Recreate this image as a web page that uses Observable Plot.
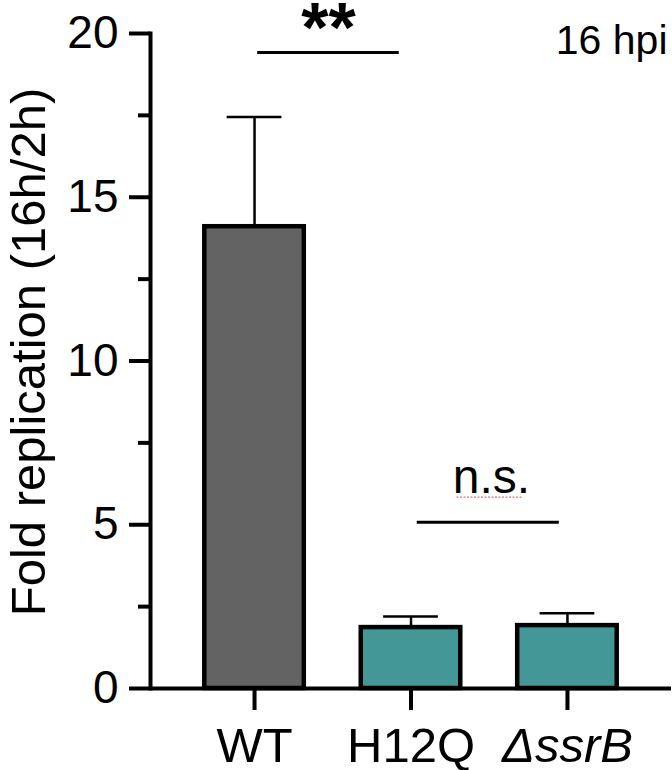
<!DOCTYPE html>
<html>
<head>
<meta charset="utf-8">
<script src="https://cdn.jsdelivr.net/npm/d3@7"></script>
<script src="https://cdn.jsdelivr.net/npm/@observablehq/plot@0.6"></script>
<style>
  html, body { margin: 0; padding: 0; background: #fff; }
  #chart { width: 672px; height: 770px; }
</style>
</head>
<body>
<div id="chart"></div>
<script>
// ---- data ----
const categories = ["WT", "H12Q", "ΔssrB"];
const positions = [1, 2, 3];
const means = [14.1, 1.86, 1.92];
const upper = [17.45, 2.2, 2.3];
const italic = [false, false, true];
const barColors = ["#636363", "#449797", "#449797"];

const yTicks = [0, 5, 10, 15, 20];
const yMinorTicks = [2.5, 7.5, 12.5, 17.5];

const sigLabels = ["**", "n.s."];
const sigX1 = [1.02, 2.04];
const sigX2 = [1.925, 2.948];
const sigY = [19.42, 5.08];

const yLabel = "Fold replication (16h/2h)";
const cornerLabel = "16 hpi";

// ---- build tables ----
const bars = categories.map((c, i) => ({
  cat: c, pos: positions[i], mean: means[i], upper: upper[i],
  italic: italic[i], color: barColors[i]
}));
const sig = sigLabels.map((s, i) => ({label: s, x1: sigX1[i], x2: sigX2[i], y: sigY[i], mid: (sigX1[i] + sigX2[i]) / 2}));
const starSig = sig.filter(d => d.label === "**");
const nsSig = sig.filter(d => d.label !== "**");

const halfBar = 0.318;
const halfCap = 0.175;
const font = "Liberation Sans, Arial, Helvetica, sans-serif";
const blank = () => "";

const chart = Plot.plot({
  width: 672,
  height: 770,
  marginLeft: 150,
  marginRight: 1,
  marginTop: 33,
  marginBottom: 82,
  style: {fontFamily: font, background: "white", color: "black", overflow: "visible"},
  x: {domain: [0.335, 3.665], axis: null},
  y: {domain: [0, 20], axis: null},
  marks: [
    // error bars
    Plot.ruleX(bars, {x: "pos", y1: "mean", y2: "upper", stroke: "black", strokeWidth: 2.5}),
    Plot.ruleY(bars, {y: "upper", x1: d => d.pos - halfCap, x2: d => d.pos + halfCap, stroke: "black", strokeWidth: 2.5}),
    // bars
    Plot.rectY(bars, {
      x1: d => d.pos - halfBar, x2: d => d.pos + halfBar, y1: 0, y2: "mean",
      fill: "color", stroke: "black", strokeWidth: 4.5
    }),
    // axes
    Plot.frame({anchor: "left", stroke: "black", strokeWidth: 4}),
    Plot.ruleY([0], {stroke: "black", strokeWidth: 4}),
    Plot.axisY({ticks: yTicks, tickSize: 21, tickPadding: 11, strokeWidth: 4, fontSize: 46, label: null, fill: "black"}),
    Plot.axisY({ticks: yMinorTicks, tickSize: 12, strokeWidth: 4, tickFormat: blank, label: null}),
    Plot.axisX({ticks: positions, tickSize: 22, strokeWidth: 4, tickFormat: blank, label: null}),
    // x labels
    Plot.text(bars.filter(d => !d.italic), {x: "pos", y: () => 0, text: "cat", dy: 73, lineAnchor: "bottom", fontSize: 49, fill: "black"}),
    Plot.text(bars.filter(d => d.italic), {x: "pos", y: () => 0, text: "cat", dy: 73, lineAnchor: "bottom", fontSize: 49, fontStyle: "italic", fill: "black"}),
    // significance brackets
    Plot.ruleY(sig, {y: "y", x1: "x1", x2: "x2", stroke: "black", strokeWidth: 3}),
    Plot.text(starSig, {x: "mid", y: "y", text: "label", lineAnchor: "bottom", dy: 0, fontSize: 70, fontWeight: "bold", fill: "black"}),
    Plot.text(nsSig, {x: d => d.mid + 0.02, y: "y", text: "label", lineAnchor: "bottom", dy: -29, fontSize: 48, fill: "black"}),
    // spell-check squiggle under n.s.
    Plot.ruleY(nsSig, {y: "y", x1: d => d.mid - 0.2, x2: d => d.mid + 0.22, dy: -25, stroke: "#e07070", strokeWidth: 1.3, strokeDasharray: "2 1.5"}),
    // y label
    Plot.text([yLabel], {frameAnchor: "left", textAnchor: "middle", rotate: -90, dx: -121, dy: -9, fontSize: 49, fill: "black"}),
    // corner label
    Plot.text([cornerLabel], {frameAnchor: "top-right", textAnchor: "end", lineAnchor: "bottom", dx: -4, dy: 20, fontSize: 41, fill: "black"})
  ]
});
document.getElementById("chart").appendChild(chart);
</script>
</body>
</html>
